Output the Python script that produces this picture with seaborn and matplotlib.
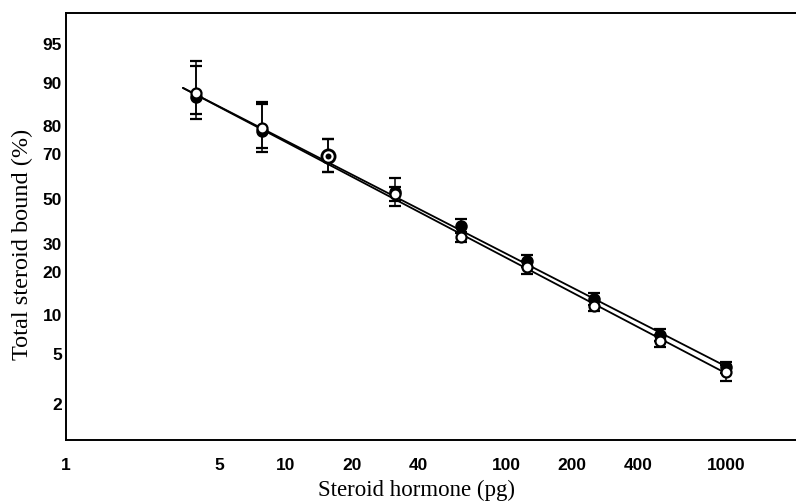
import numpy as np
import pandas as pd
import matplotlib
matplotlib.use("Agg")
import matplotlib.pyplot as plt
import matplotlib.ticker as mticker
import seaborn as sns

# ---- data ----
dose_pg = [3.9, 7.8, 15.6, 31.25, 62.5, 125, 250, 500, 1000]
filled_pct = [87.1, 78.2, 68.8, 53.0, 37.2, 23.4, 12.9, 6.95, 3.89]
filled_err = [5.3, 7.5, 6.5, 6.6, 3.0, 2.0, 1.3, 0.75, 0.4]
open_pct = [88.1, 79.2, 68.8, 51.9, 32.5, 21.2, 11.5, 6.3, 3.55]
open_err = [5.0, 7.0, 6.5, 3.4, 2.0, 2.0, 0.9, 0.7, 0.5]

line_x = [3.4, 990]
line_filled_pct = [89.0, 3.99]
line_open_pct = [89.0, 3.52]

x_ticks = [1, 5, 10, 20, 40, 100, 200, 400, 1000]
x_tick_labels = ["1", "5", "10", "20", "40", "100", "200", "400", "1000"]
y_ticks = [2, 5, 10, 20, 30, 50, 70, 80, 90, 95]
y_tick_labels = ["2", "5", "10", "20", "30", "50", "70", "80", "90", "95"]

sns.set_style("white")
plt.rcParams["font.family"] = ["Liberation Serif", "DejaVu Serif"]
plt.rcParams["text.color"] = "black"
plt.rcParams["axes.labelcolor"] = "black"

fig = plt.figure(figsize=(7.96, 5.02), dpi=100)
ax = fig.add_axes([66 / 796, 61 / 502, 1 - 66 / 796, 427 / 502])
ax.set_xscale("log")
ax.set_yscale("logit")
ax.set_xlim(1, 2080)
ax.set_ylim(0.0101, 0.971)

lines_df = pd.DataFrame({
    "x": line_x * 2,
    "y": [v / 100 for v in line_filled_pct] + [v / 100 for v in line_open_pct],
    "fit": ["filled"] * 2 + ["open"] * 2,
})
sns.lineplot(data=lines_df, x="x", y="y", units="fit", estimator=None,
             color="black", lw=1.3, ax=ax, legend=False, zorder=2)

x = np.array(dose_pg)
fp = np.array(filled_pct) / 100
fe = np.array(filled_err) / 100
op = np.array(open_pct) / 100
oe = np.array(open_err) / 100

ax.errorbar(x, fp, yerr=fe, fmt="none", ecolor="black", elinewidth=1.1,
            capsize=4.5, capthick=1.6, zorder=3)
ax.errorbar(x, op, yerr=oe, fmt="none", ecolor="black", elinewidth=1.1,
            capsize=4.5, capthick=1.6, zorder=3)

same = np.isclose(fp, op)
diff = ~same
ax.plot(x[diff], fp[diff], "o", ms=7.8, mfc="black", mec="black", mew=1.2, zorder=4)
ax.plot(x[diff], op[diff], "o", ms=7.2, mfc="white", mec="black", mew=1.6, zorder=5)
# coincident points: ring with dot
ax.plot(x[same], op[same], "o", ms=9.5, mfc="white", mec="black", mew=2.0, zorder=5)
ax.plot(x[same], fp[same], "o", ms=4.3, mfc="black", mec="black", mew=0, zorder=6)

tick_font = dict(family=["Liberation Sans Narrow", "Liberation Sans", "DejaVu Sans"],
                 size=12.5, weight="bold")
ax.xaxis.set_major_locator(mticker.FixedLocator(x_ticks))
ax.xaxis.set_minor_locator(mticker.NullLocator())
ax.set_xticklabels(x_tick_labels, fontdict=tick_font)
ax.yaxis.set_major_locator(mticker.FixedLocator([v / 100 for v in y_ticks]))
ax.yaxis.set_minor_locator(mticker.NullLocator())
ax.set_yticklabels(y_tick_labels, fontdict=tick_font)

ax.tick_params(axis="x", direction="in", length=8, width=1.2, pad=12, colors="black")
ax.tick_params(axis="y", direction="in", length=8, width=1.2, pad=3, colors="black")

for side in ["left", "bottom", "top"]:
    ax.spines[side].set_visible(True)
    ax.spines[side].set_linewidth(1.4)
    ax.spines[side].set_color("black")
ax.spines["right"].set_visible(False)

ax.set_xlabel("Steroid hormone (pg)", fontsize=16.5)
ax.set_ylabel("Total steroid bound (%)", fontsize=17.5)
ax.xaxis.set_label_coords((417 - 66) / 730, -(480 - 441) / 427)
ax.yaxis.set_label_coords(-(66 - 33) / 730, (441 - 244) / 427)

fig.savefig("out.png", dpi=100, facecolor="white")
